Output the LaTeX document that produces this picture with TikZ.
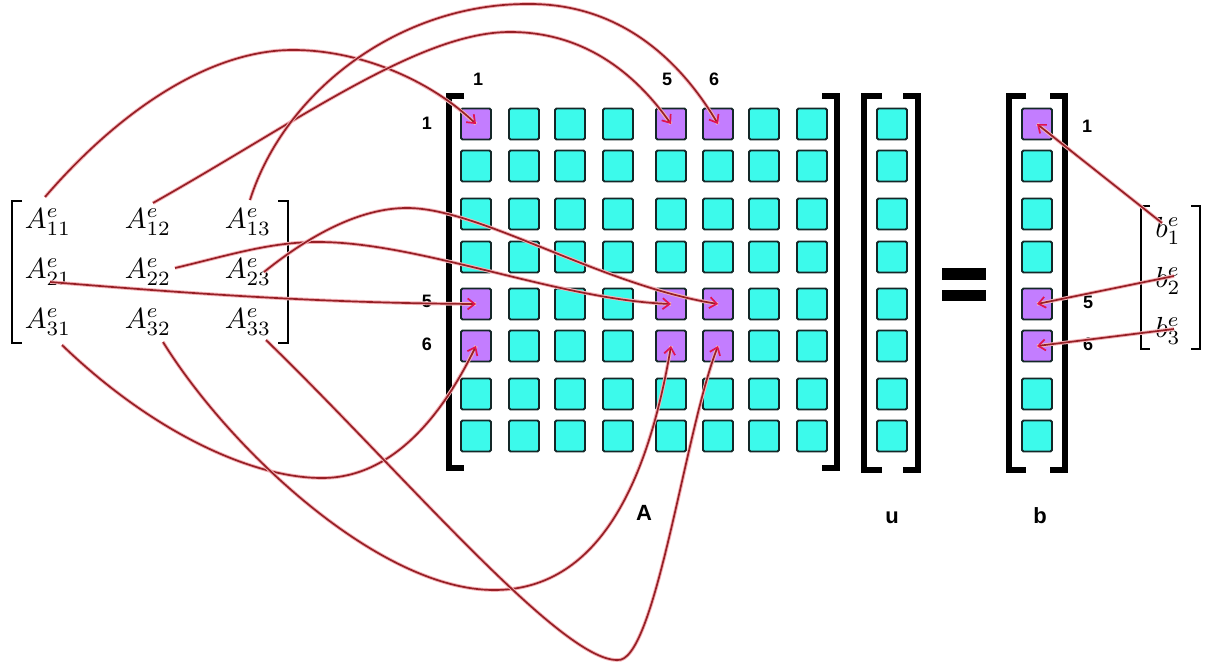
\documentclass[tikz,border=0pt]{standalone}
\usepackage[no-math]{fontspec}
\newfontfamily\labfont{Liberation Sans}
\usetikzlibrary{arrows.meta,calc}
\definecolor{linered}{RGB}{150,32,38}
\definecolor{halo}{RGB}{245,180,185}
\definecolor{tipred}{RGB}{225,20,80}
\definecolor{cfill}{RGB}{60,250,235}
\definecolor{pfill}{RGB}{195,125,255}
\definecolor{cdraw}{RGB}{20,40,40}
\begin{document}
\begin{tikzpicture}[x=1pt,y=-1pt,
  cell/.style={draw=cdraw,line width=1.8pt,rounded corners=1.5pt,minimum width=30pt,minimum height=31pt,inner sep=0pt},
  brk/.style={line width=6pt,line join=miter,line cap=butt},
  thinbrk/.style={line width=1.3pt,line join=miter},
  ent/.style={inner sep=0pt,scale=2.9},
  lab/.style={inner sep=0pt,font=\labfont\bfseries\fontsize{18}{20}\selectfont},
  biglab/.style={inner sep=0pt,font=\labfont\bfseries\fontsize{22}{24}\selectfont},
  conn/.style={draw=linered,line width=1.7pt,preaction={draw=halo,line width=3.6pt,arrows=-},
    -{Straight Barb[length=7pt,width=11pt,line width=1.7pt,color=tipred]}}]
\fill[white] (0,0) rectangle (1215,666);
\useasboundingbox (0,0) rectangle (1215,666);

% ---- matrix A cells ----
\foreach \r/\y in {1/124,2/166,3/214,4/257,5/304,6/346,7/394,8/436}{
  \foreach \c/\x in {1/476,2/524,3/570,4/618,5/671,6/718,7/764,8/812}{
    \pgfmathtruncatemacro\isp{((\r==1)||(\r==5)||(\r==6))&&((\c==1)||(\c==5)||(\c==6))}
    \def\fc{cfill}\ifnum\isp=1 \def\fc{pfill}\fi
    \node[cell,fill=\fc] (c-\r-\c) at (\x,\y) {};
  }
}
% ---- vector u and b cells ----
\foreach \r/\y in {1/124,2/166,3/214,4/257,5/304,6/346,7/394,8/436}{
  \node[cell,fill=cfill] (u-\r) at (892,\y) {};
  \pgfmathtruncatemacro\isp{(\r==1)||(\r==5)||(\r==6)}
  \def\fc{cfill}\ifnum\isp=1 \def\fc{pfill}\fi
  \node[cell,fill=\fc] (b-\r) at (1037,\y) {};
}

% ---- brackets ----
\draw[brk] (464,96) -- (449,96) -- (449,468) -- (464,468);
\draw[brk] (822,96) -- (837,96) -- (837,468) -- (822,468);
\draw[brk] (882,96) -- (864,96) -- (864,470) -- (882,470);
\draw[brk] (903,96) -- (918,96) -- (918,470) -- (903,470);
\draw[brk] (1026,96) -- (1009,96) -- (1009,470) -- (1026,470);
\draw[brk] (1050,96) -- (1065,96) -- (1065,470) -- (1050,470);

% ---- equals sign ----
\fill (942,268) rectangle (986,280);
\fill (942,290) rectangle (986,301);

% ---- element matrix A^e ----
\node[ent] (e11) at (48,222) {$A^e_{11}$};
\node[ent] (e12) at (148,222) {$A^e_{12}$};
\node[ent] (e13) at (248,222) {$A^e_{13}$};
\node[ent] (e21) at (48,272) {$A^e_{21}$};
\node[ent] (e22) at (148,272) {$A^e_{22}$};
\node[ent] (e23) at (248,272) {$A^e_{23}$};
\node[ent] (e31) at (48,322) {$A^e_{31}$};
\node[ent] (e32) at (148,322) {$A^e_{32}$};
\node[ent] (e33) at (248,322) {$A^e_{33}$};
\draw[thinbrk] (22,201) -- (12,201) -- (12,343) -- (22,343);
\draw[thinbrk] (278,201) -- (288,201) -- (288,343) -- (278,343);

% ---- element vector b^e ----
\node[ent] (be1) at (1168,231) {$b^e_1$};
\node[ent] (be2) at (1168,281) {$b^e_2$};
\node[ent] (be3) at (1168,331) {$b^e_3$};
\draw[thinbrk] (1150,206) -- (1141,206) -- (1141,349) -- (1150,349);
\draw[thinbrk] (1191,206) -- (1200,206) -- (1200,349) -- (1191,349);

% ---- index labels ----
\node[lab] (lc1) at (478,79) {1};
\node[lab] (lc5) at (667,79) {5};
\node[lab] (lc6) at (714,79) {6};
\node[lab] (lr1) at (427,123) {1};
\node[lab] (lr5) at (427,301) {5};
\node[lab] (lr6) at (427,344) {6};
\node[lab] (lb1) at (1087,126) {1};
\node[lab] (lb5) at (1088,302) {5};
\node[lab] (lb6) at (1088,344) {6};
\node[biglab] (nA) at (644,513) {A};
\node[biglab] (nu) at (892,518) {u};
\node[biglab] (nb) at (1040,516) {b};

% ---- connectors ----
\draw[conn] ($(e11)+(-3,-25)$) .. controls (120,110) and (210,50) .. (293,50)
   .. controls (360,50) and (430,80) .. (c-1-1.center);
\draw[conn] ($(e12)+(5,-19)$) .. controls (300,120) and (420,32) .. (510,32)
   .. controls (590,32) and (640,80) .. (c-1-5.center);
\draw[conn] ($(e13)+(2,-22)$) .. controls (285,90) and (400,4) .. (527,4)
   .. controls (620,3) and (680,60) .. (c-1-6.center);
\draw[conn] ($(e21)+(2,10)$) .. controls (150,290) and (300,303) .. (c-5-1.center);
\draw[conn] ($(e22)+(27,-4)$) .. controls (230,255) and (270,242) .. (318,242)
   .. controls (420,242) and (560,300) .. (c-5-5.center);
\draw[conn] ($(e23)+(16,0)$) .. controls (310,235) and (360,208) .. (407,208)
   .. controls (480,208) and (600,285) .. (c-5-6.center);
\draw[conn] ($(e31)+(14,23)$) .. controls (150,430) and (250,478) .. (322,478)
   .. controls (390,478) and (440,420) .. (c-6-1.center);
\draw[conn] ($(e32)+(15,20)$) .. controls (230,450) and (380,590) .. (494,590)
   .. controls (590,590) and (645,500) .. (c-6-5.center);
\draw[conn] ($(e33)+(18,18)$) .. controls (400,470) and (560,660) .. (617,660)
   .. controls (655,665) and (685,430) .. (c-6-6.center);
\draw[conn] ($(be1)+(-6,-8)$) -- (b-1.center);
\draw[conn] ($(be2)+(6,-5)$) -- (b-5.center);
\draw[conn] ($(be3)+(6,-2)$) -- (b-6.center);
\end{tikzpicture}
\end{document}
